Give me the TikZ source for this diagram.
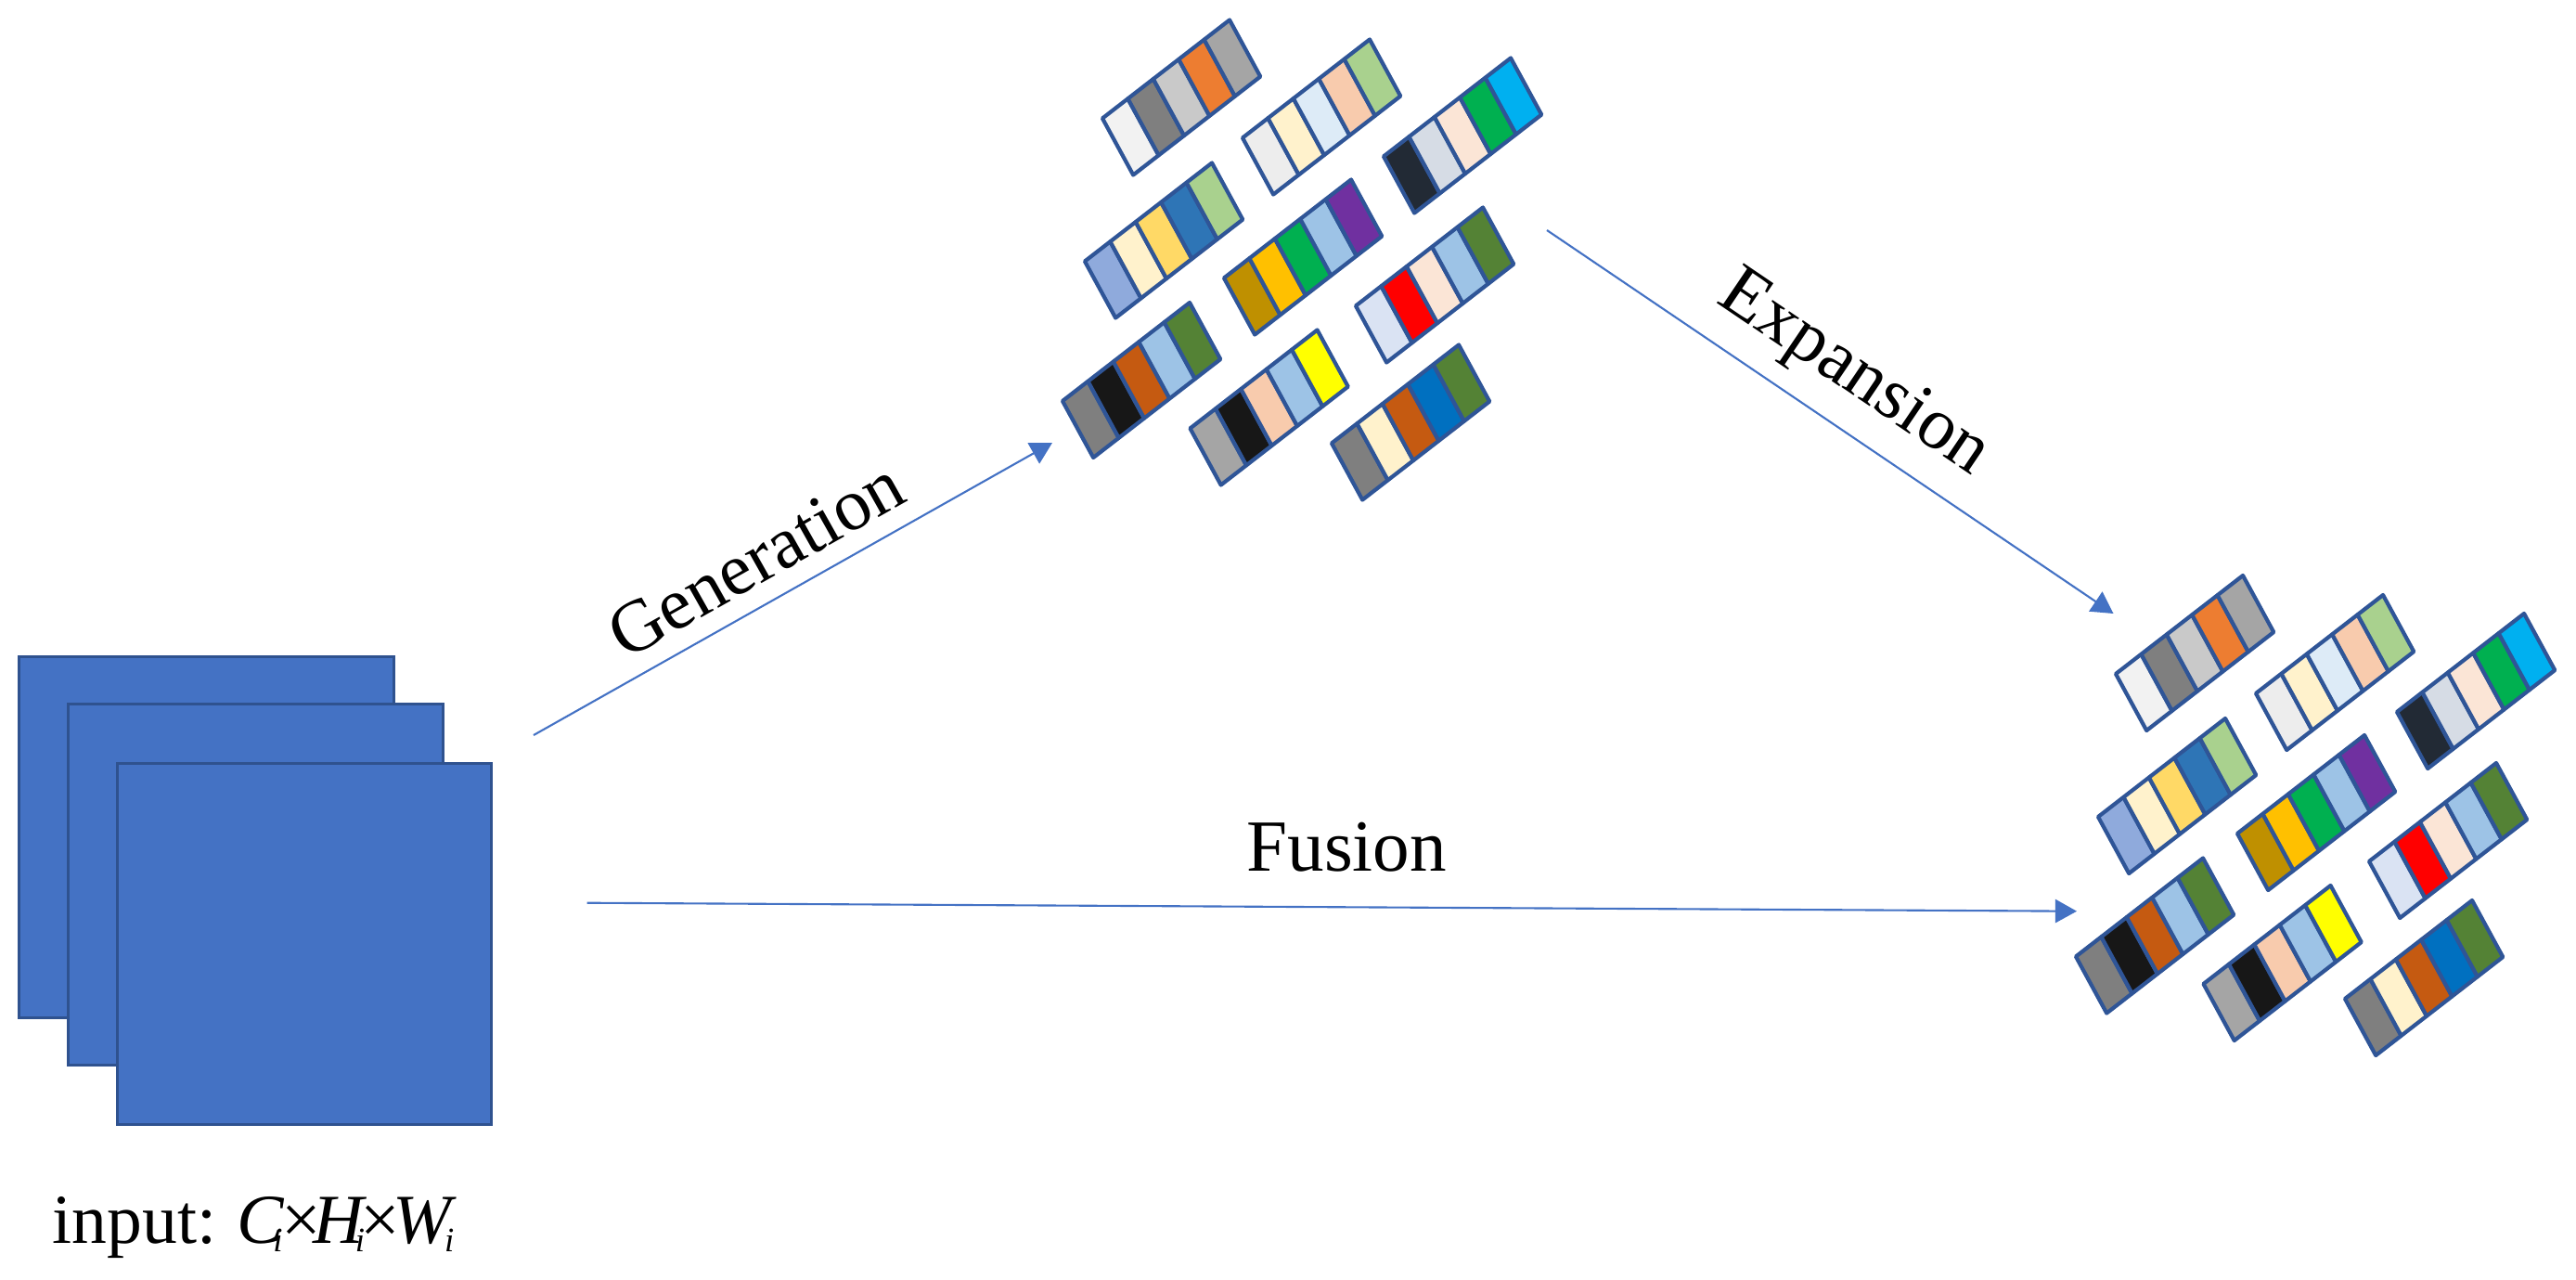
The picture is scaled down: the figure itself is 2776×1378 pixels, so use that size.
\documentclass[tikz,border=0pt]{standalone}
\usepackage{fontspec}
\setmainfont{Liberation Serif}
\newfontfamily\labelfont{Liberation Serif}
\usetikzlibrary{arrows.meta}

\definecolor{mapblue}{HTML}{4472C4}
\definecolor{mapedge}{HTML}{2F528F}
\definecolor{baredge}{HTML}{2F5597}
\newcommand{\subi}{\llap{\raisebox{-0.13em}{\fontsize{10.5}{12}\selectfont\textit{i}}\kern0.03em}}

\begin{document}
\begin{tikzpicture}
[x=0.01cm, y=-0.01cm,
  mapDecorate/.style={shape=rectangle,inner sep=0pt,draw=mapedge,line width=0.8pt,fill=mapblue,
    minimum width=4.03cm,minimum height=3.89cm},%
  cellDecorate/.style={draw=baredge,line width=1.2pt,line join=round},%
  lineDecorate/.style={-{Triangle[length=6.6pt,width=7.2pt]},draw=mapblue,line width=0.6pt},%
  labelDecorate/.style={font=\labelfont\fontsize{22.5}{27}\selectfont,inner sep=5.6pt}]
\useasboundingbox (0,0) rectangle (2776,1378);
%% input feature maps
\foreach \nodename/\x/\y in {back/222.5/902, mid/275.5/953, front/328/1017}
{
  \node (\nodename) at (\x,\y) [mapDecorate] {};
}
\node (input) at (56,1339) [labelDecorate,font=\labelfont\fontsize{21.5}{26}\selectfont,inner sep=0pt,anchor=base west]
  {input:\hspace{0.3em}\textit{C}\subi\kern-0.05em×\kern-0.11em\textit{H}\subi\kern-0.09em×\kern-0.11em\textit{W}\subi};
%% groups of colour bars
\foreach \ox/\oy/\grp in {1188/127.5/top, 2280/726/right}
{
  \coordinate (\grp) at (\ox,\oy);
  \begin{scope}[shift={(\ox,\oy)}]
  \foreach \bx/\by/\cols in {
    0/0/{F2F2F2,7F7F7F,C9C9C9,ED7D31,A5A5A5},
    151/21/{EDEDED,FFF2CC,DDEBF7,F8CBAD,A9D18E},
    303/41/{222A35,D6DCE5,FBE5D6,00B050,00B0F0},
    -19/154/{8FAADC,FFF2CC,FFD966,2E75B6,A9D18E},
    131/172/{BF9000,FFC000,00B050,9DC3E6,7030A0},
    273/202/{DAE3F3,FF0000,FBE5D6,9DC3E6,548235},
    -43/304.5/{7F7F7F,171717,C55A11,9DC3E6,548235},
    94.5/334/{A5A5A5,171717,F8CBAD,9DC3E6,FFFF00},
    247/350/{7F7F7F,FFF2CC,C55A11,0070C0,548235}}
  {
    \begin{scope}[shift={(\bx,\by)}]
    \foreach \col [count=\k from 0] in \cols
    {
      \definecolor{cellc}{HTML}{\col}
      \draw[cellDecorate,fill=cellc] (\k*27.4,-\k*21.2) -- ++(27.4,-21.2)
        -- ++(33.2,61) -- ++(-27.4,21.2) -- cycle;
    }
    \end{scope}
  }
  \end{scope}
}
%% arrows
\coordinate (genS) at (575,792);
\coordinate (genE) at (1134,477);
\coordinate (expS) at (1667,248);
\coordinate (expE) at (2277.5,661);
\coordinate (fusS) at (632.5,972.7);
\coordinate (fusE) at (2238,981.7);
\draw[lineDecorate] (genS) -- node (genlabel) [labelDecorate,sloped,above,pos=0.47] {Generation} (genE);
\draw[lineDecorate] (expS) -- node (explabel) [labelDecorate,sloped,above,pos=0.49] {Expansion} (expE);
\draw[lineDecorate] (fusS) -- node (fuslabel) [labelDecorate,above,pos=0.51,yshift=4.9pt] {Fusion} (fusE);
\end{tikzpicture}
\end{document}
